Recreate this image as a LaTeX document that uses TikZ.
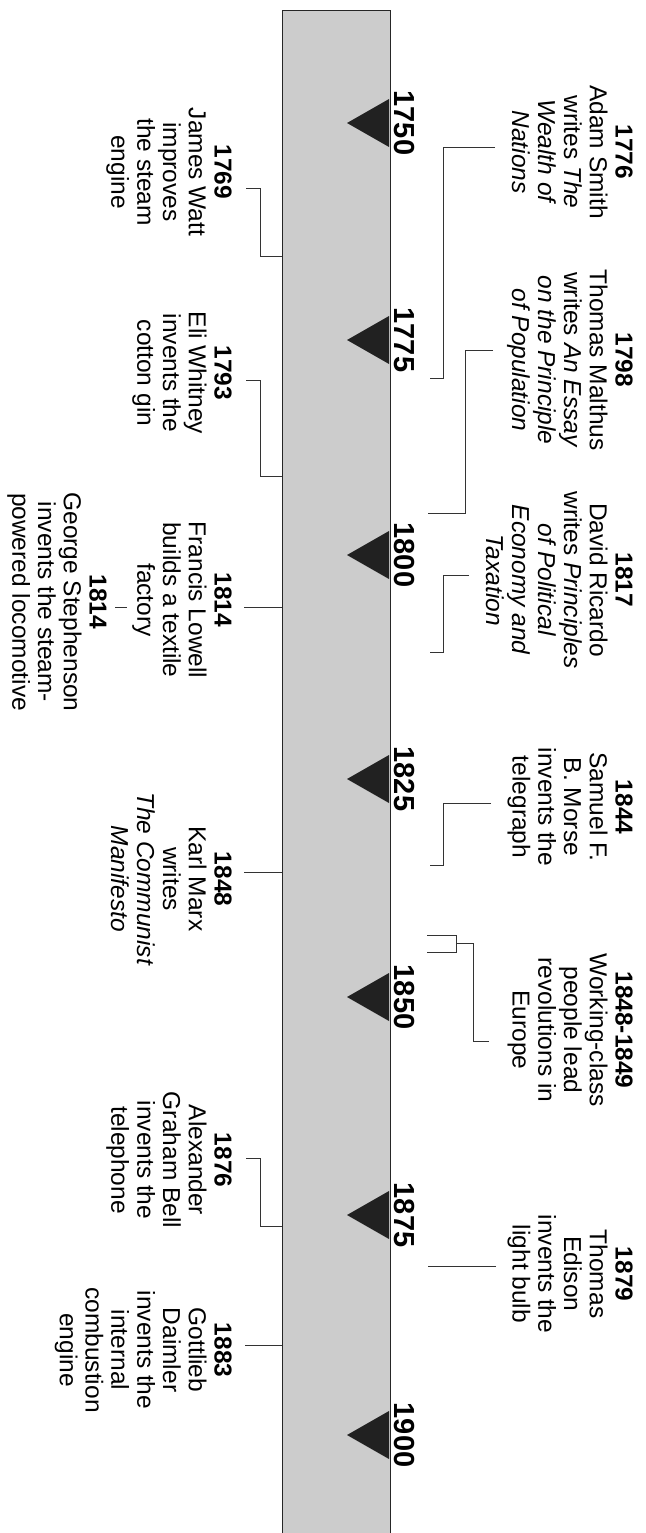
\documentclass[tikz,border=0pt]{standalone}
\usepackage{fontspec}
\setmainfont{Liberation Sans}
\begin{document}
\begin{tikzpicture}[x=1pt,y=-1pt,
  evtext/.style={rotate=-90,anchor=north,align=center,inner sep=0pt,
    font=\fontsize{24.5}{25.8}\selectfont},
  yearlbl/.style={rotate=-90,anchor=south,inner sep=0pt,
    font=\fontsize{29}{30}\selectfont\bfseries},
  conn/.style={draw=black!80,line width=0.9pt},
  tri/.style={fill=black!87},
  bandstyle/.style={fill=black!20,draw=black!85,line width=0.9pt}]
\useasboundingbox (0,0) rectangle (645,1533);
% band
\draw[bandstyle] (282,10) rectangle (390,1545);
\coordinate (bandL) at (282,0);
\coordinate (bandR) at (390,0);
% ticks and year labels
\foreach \yr/\yy in {1750/123,1775/340,1800/555,1825/779,1850/997,1875/1215,1900/1435}{
  \fill[tri] (389,\yy-24) -- (347,\yy) -- (389,\yy+24) -- cycle;
  \node[yearlbl] (y\yr) at (394,\yy) {\yr};
}
% right column events
\node[evtext] (e1776) at (633,152) {{\bfseries 1776}\\Adam Smith\\writes \textit{The}\\\textit{Wealth of}\\\textit{Nations}};
\node[evtext] (e1798) at (633,360) {{\bfseries 1798}\\Thomas Malthus\\writes \textit{An Essay}\\\textit{on the Principle}\\\textit{of Population}};
\node[evtext] (e1817) at (633,580) {{\bfseries 1817}\\David Ricardo\\writes \textit{Principles}\\\textit{of Political}\\\textit{Economy and}\\\textit{Taxation}};
\node[evtext] (e1844) at (633,807) {{\bfseries 1844}\\Samuel F.\\B. Morse\\invents the\\telegraph};
\node[evtext] (e1848r) at (633,1030) {{\bfseries 1848-1849}\\Working-class\\people lead\\revolutions in\\Europe};
\node[evtext] (e1879) at (633,1274) {{\bfseries 1879}\\Thomas\\Edison\\invents the\\light bulb};
% left column events
\node[evtext] (e1769) at (232,172) {{\bfseries 1769}\\James Watt\\improves\\the steam\\engine};
\node[evtext] (e1793) at (232,373) {{\bfseries 1793}\\Eli Whitney\\invents the\\cotton gin};
\node[evtext] (e1814a) at (232,600) {{\bfseries 1814}\\Francis Lowell\\builds a textile\\factory};
\node[evtext] (e1814b) at (107,602) {{\bfseries 1814}\\George Stephenson\\invents the steam-\\powered locomotive};
\node[evtext] (e1848) at (232,879) {{\bfseries 1848}\\Karl Marx\\writes\\\textit{The Communist}\\\textit{Manifesto}};
\node[evtext] (e1876) at (232,1160) {{\bfseries 1876}\\Alexander\\Graham Bell\\invents the\\telephone};
\node[evtext] (e1883) at (232,1350) {{\bfseries 1883}\\Gottlieb\\Daimler\\invents the\\internal\\combustion\\engine};
% connector end points
\coordinate (c1769) at (246,188);
\coordinate (c1793) at (246,380);
\coordinate (c1814) at (244,607);
\coordinate (c1848) at (244,872);
\coordinate (c1876) at (246,1158);
\coordinate (c1883) at (245,1345);
\coordinate (c1776) at (495,147);
\coordinate (c1798) at (493,350);
\coordinate (c1817) at (469,575);
\coordinate (c1844) at (491,803);
\coordinate (c1848r) at (489,1041);
\coordinate (c1879) at (496,1266);
% left connectors
\draw[conn] (c1769) -- ++(14,0) |- (bandL |- 0,256);
\draw[conn] (c1793) -- ++(14,0) |- (bandL |- 0,476);
\draw[conn] (c1814) -- (bandL |- c1814);
\draw[conn] (115,607) -- (127,607);
\draw[conn] (c1848) -- (bandL |- c1848);
\draw[conn] (c1876) -- ++(14,0) |- (bandL |- 0,1226);
\draw[conn] (c1883) -- (bandL |- c1883);
% right connectors
\draw[conn] (c1776) -- (443,147) -- (443,378) -- (430,378);
\draw[conn] (c1798) -- (465,350) -- (465,513) -- (428,513);
\draw[conn] (c1817) -- (443,575) -- (443,652) -- (430,652);
\draw[conn] (c1844) -- (443,803) -- (443,865) -- (430,865);
\draw[conn] (c1848r) -- (473,1041) -- (473,943) -- (456,943);
\draw[conn] (427,935) -- (456,935) -- (456,952) -- (427,952);
\draw[conn] (c1879) -- (428,1266);
\end{tikzpicture}
\end{document}
